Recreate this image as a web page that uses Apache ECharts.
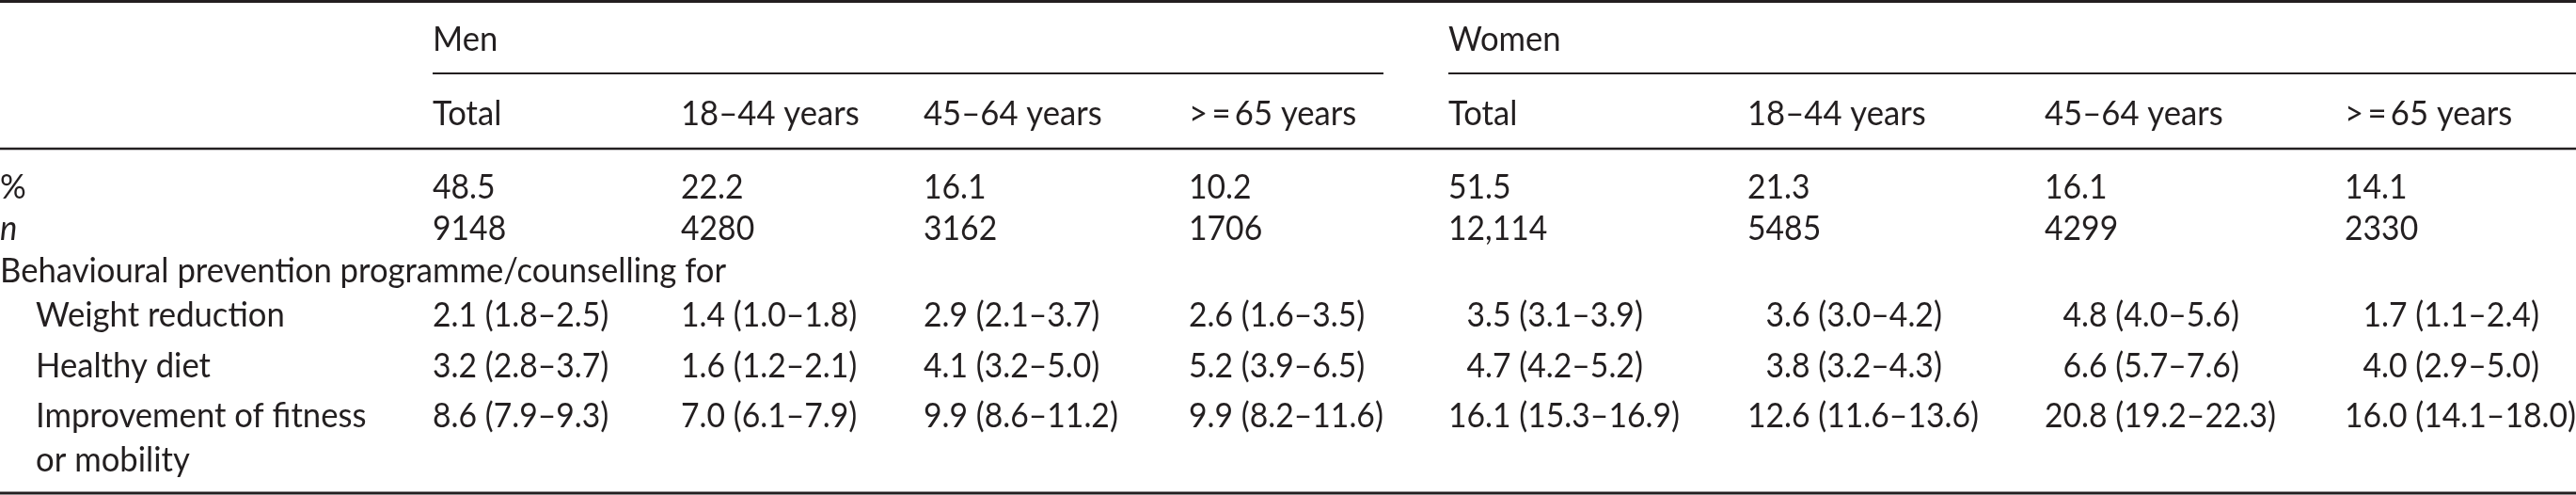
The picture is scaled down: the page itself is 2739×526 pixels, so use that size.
<!DOCTYPE html>
<html>
<head>
<meta charset="utf-8">
<script src="https://cdn.jsdelivr.net/npm/echarts@6/dist/echarts.min.js"></script>
<style>
  html, body { margin: 0; padding: 0; background: #fff; }
  #chart { width: 2739px; height: 526px; }
</style>
</head>
<body>
<div id="chart"></div>
<script>
// table content
const sexGroups = ['Men', 'Women'];
const ageGroups = ['Total', '18–44 years', '45–64 years', '>\u2009=\u200965 years'];
const pctRow = ['48.5', '22.2', '16.1', '10.2', '51.5', '21.3', '16.1', '14.1'];
const nRow = ['9148', '4280', '3162', '1706', '12,114', '5485', '4299', '2330'];
const sectionLabel = 'Behavioural prevention programme/counselling for';
const measureLabels = [['Weight reduction'], ['Healthy diet'], ['Improvement of fitness', 'or mobility']];
// [estimate, lower, upper] per column: men total, 18-44, 45-64, >=65, women total, 18-44, 45-64, >=65
const weightReduction = [[2.1, 1.8, 2.5], [1.4, 1.0, 1.8], [2.9, 2.1, 3.7], [2.6, 1.6, 3.5],
                         [3.5, 3.1, 3.9], [3.6, 3.0, 4.2], [4.8, 4.0, 5.6], [1.7, 1.1, 2.4]];
const healthyDiet = [[3.2, 2.8, 3.7], [1.6, 1.2, 2.1], [4.1, 3.2, 5.0], [5.2, 3.9, 6.5],
                     [4.7, 4.2, 5.2], [3.8, 3.2, 4.3], [6.6, 5.7, 7.6], [4.0, 2.9, 5.0]];
const fitnessMobility = [[8.6, 7.9, 9.3], [7.0, 6.1, 7.9], [9.9, 8.6, 11.2], [9.9, 8.2, 11.6],
                         [16.1, 15.3, 16.9], [12.6, 11.6, 13.6], [20.8, 19.2, 22.3], [16.0, 14.1, 18.0]];

// layout (page pixels)
const W = 2739, H = 526;
const colLeft = [0, 460, 724, 982, 1264, 1540, 1858, 2174, 2493];
const indent = 38;
const rowY = { sex: 42, age: 121, pct: 199, n: 243, section: 288, measures: [[335], [389], [442, 489]] };
const rules = [
  { x1: 0, x2: W, y: 1.5, w: 3 },
  { x1: 460, x2: 1471, y: 78, w: 2 },
  { x1: 1540, x2: W, y: 78, w: 2 },
  { x1: 0, x2: W, y: 158, w: 2.5 },
  { x1: 0, x2: W, y: 524, w: 3 }
];
const ink = '#231f20';
const fontSize = 36;
const fontFamily = 'Lato';

// squeeze Lato to the widths of the narrower original face
const ctx = document.createElement('canvas').getContext('2d');
function textWidth(t) {
  ctx.font = fontSize + 'px ' + fontFamily;
  return ctx.measureText(t).width;
}
const sxText = 772 / textWidth(sectionLabel);
const sxNum = 246 / textWidth('20.8 (19.2–22.3)');

const fmt = v => v.toFixed(1);
const ci = c => fmt(c[0]) + ' (' + fmt(c[1]) + '–' + fmt(c[2]) + ')';
const measureValues = [weightReduction, healthyDiet, fitnessMobility];

// build cells: [x, y, text, italic, numeric]
const cells = [];
sexGroups.forEach((g, i) => cells.push([colLeft[1 + i * 4], rowY.sex, g, 0, 0]));
for (let c = 0; c < 8; c++) {
  cells.push([colLeft[c + 1], rowY.age, ageGroups[c % 4], 0, 0]);
  cells.push([colLeft[c + 1], rowY.pct, pctRow[c], 0, 1]);
  cells.push([colLeft[c + 1], rowY.n, nRow[c], 0, 1]);
}
cells.push([0, rowY.pct, '%', 0, 0]);
cells.push([0, rowY.n, 'n', 1, 0]);
cells.push([0, rowY.section, sectionLabel, 0, 0]);
measureLabels.forEach((lines, m) => {
  lines.forEach((t, k) => cells.push([indent, rowY.measures[m][k], t, 0, 0]));
});
// estimate cells, aligned on the decimal point of the estimate
for (let c = 0; c < 8; c++) {
  const ints = measureValues.map(arr => String(Math.floor(arr[c][0])));
  const maxInt = Math.max(...ints.map(s => textWidth(s) * sxNum));
  measureValues.forEach((arr, m) => {
    const x = colLeft[c + 1] + maxInt - textWidth(ints[m]) * sxNum;
    cells.push([x, rowY.measures[m][0], ci(arr[c]), 0, 1]);
  });
}

const chart = echarts.init(document.getElementById('chart'), null, { renderer: 'canvas' });
chart.setOption({
  backgroundColor: '#fff',
  animation: false,
  grid: { left: 0, right: 0, top: 0, bottom: 0 },
  xAxis: { type: 'value', min: 0, max: W, show: false },
  yAxis: { type: 'value', min: 0, max: H, inverse: true, show: false },
  series: [
    {
      type: 'custom',
      name: 'rules',
      silent: true,
      data: rules.map(r => [r.x1, r.y, r.x2, r.w]),
      renderItem: function (params, api) {
        const a = api.coord([api.value(0), api.value(1)]);
        const b = api.coord([api.value(2), api.value(1)]);
        return {
          type: 'line',
          shape: { x1: a[0], y1: a[1], x2: b[0], y2: b[1] },
          style: { stroke: ink, lineWidth: api.value(3) }
        };
      }
    },
    {
      type: 'custom',
      name: 'cells',
      silent: true,
      data: cells,
      renderItem: function (params, api) {
        const p = api.coord([api.value(0), api.value(1)]);
        const cell = cells[params.dataIndex];
        return {
          type: 'text',
          x: p[0],
          y: p[1],
          scaleX: cell[4] ? sxNum : sxText,
          style: {
            text: cell[2],
            fill: ink,
            fontSize: fontSize,
            fontFamily: fontFamily,
            fontStyle: cell[3] ? 'italic' : 'normal',
            align: 'left',
            verticalAlign: 'middle'
          }
        };
      }
    }
  ]
});
</script>
</body>
</html>
